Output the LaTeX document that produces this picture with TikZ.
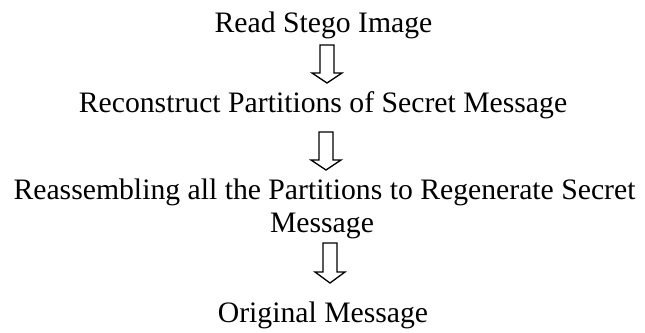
\documentclass[tikz,border=0pt]{standalone}
\usepackage{fontspec}
\setmainfont{Liberation Serif}
\begin{document}
\begin{tikzpicture}[x=1pt,y=-1pt,
  lbl/.style={anchor=base,inner sep=0pt,font=\fontsize{29.7}{34}\selectfont},
  blk/.style={draw=black,line width=1.3pt,fill=white,line join=miter}]
\useasboundingbox (0,0) rectangle (645,332);
\newcommand{\blockarrow}[4]{%
  \draw[blk] (#1-7,#2) -- (#1+7,#2) -- (#1+7,#3) -- (#1+15,#3) -- (#1,#4) -- (#1-15,#3) -- (#1-7,#3) -- cycle;}
\node[lbl] (a) at (323.5,32) {Read Stego Image};
\node[lbl] (b) at (323,112) {Reconstruct Partitions of Secret Message};
\node[lbl] (c) at (324.5,199) {Reassembling all the Partitions to Regenerate Secret};
\node[lbl] (c2) at (322,232) {Message};
\node[lbl] (d) at (323,322) {Original Message};
\blockarrow{327}{45}{73}{83}
\blockarrow{326}{132}{160}{170}
\blockarrow{330}{243}{272}{283}
\end{tikzpicture}
\end{document}
